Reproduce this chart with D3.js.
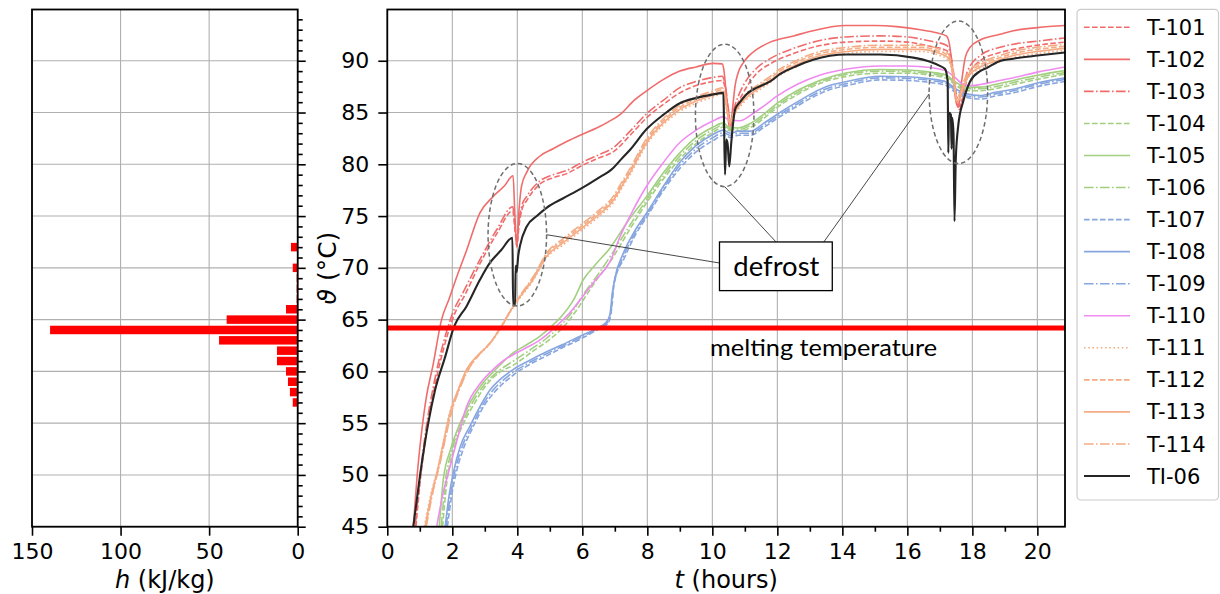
<!DOCTYPE html>
<html>
<head>
<meta charset="utf-8">
<script src="https://cdn.jsdelivr.net/npm/d3@7"></script>
<style>
  body { margin: 0; background: #fff; }
  svg { display: block; }
</style>
</head>
<body>
<svg id="chart" width="1220" height="594"></svg>
<script>
// ---- enthalpy distribution per 1 °C band ----
const hTemps  = [57, 58, 59, 60, 61, 62, 63, 64, 65, 66, 67, 68, 69, 70, 71, 72];
const hValues = [2.8, 4.4, 5.5, 6.6, 11.7, 11.7, 44.4, 139.8, 40.1, 6.6, 0.6, 0.6, 0.6, 2.8, 0.3, 3.8];

// ---- temperature logs: [time (h), temperature (°C)] ----
const t101 = [[0.88,45],[1.0,49],[1.2,54],[1.45,58.4],[1.75,62.4],[2.05,65.4],[2.39,67.4],[2.85,70.4],[3.37,73.3],[3.86,75.5],[3.93,73.6],[3.99,72.1],[4.05,74],[4.15,75.7],[4.29,76.5],[4.7,78.1],[5.1,78.7],[5.52,79.1],[6.0,79.9],[6.5,80.6],[6.95,81.2],[7.5,82.9],[7.98,84.5],[8.5,85.8],[9.0,86.9],[9.5,87.6],[10.03,88.0],[10.3,88.1],[10.4,87.3],[10.5,85],[10.56,83.8],[10.65,84.7],[10.8,86.0],[10.95,86.9],[11.37,88.8],[11.78,89.7],[12.5,90.7],[13.1,91.3],[14.1,91.8],[15.16,91.9],[16.0,91.8],[16.7,91.4],[17.2,91.0],[17.35,90.0],[17.5,86.5],[17.6,85.3],[17.7,86.4],[17.85,88.4],[18.24,90.0],[18.85,90.8],[19.26,91.1],[20.0,91.5],[20.85,91.8]];
const t102 = [[0.80,45],[0.92,50],[1.05,54],[1.2,57.5],[1.4,60.5],[1.67,65],[1.9,67],[2.11,68.9],[2.44,71.7],[2.85,75.3],[3.26,76.9],[3.6,77.9],[3.87,78.9],[3.92,75.5],[3.98,72.0],[4.05,75.5],[4.13,77.9],[4.3,79.3],[4.7,80.8],[5.1,81.5],[5.52,82.2],[6.0,82.9],[6.44,83.5],[6.8,84.1],[7.16,84.8],[7.6,86.2],[7.98,87.1],[8.5,88.2],[9.0,89.0],[9.5,89.4],[10.03,89.75],[10.3,89.7],[10.36,89.0],[10.42,87.0],[10.48,84.6],[10.55,83.2],[10.62,85.3],[10.7,87.6],[10.8,88.9],[10.95,89.8],[11.1,90.4],[11.37,91.1],[11.78,91.8],[12.5,92.4],[13.1,92.9],[14.1,93.4],[15.0,93.4],[15.67,93.3],[16.4,93.0],[16.9,92.7],[17.2,92.4],[17.3,91.5],[17.4,88.5],[17.5,86.0],[17.57,85.5],[17.67,88.0],[17.78,90.3],[17.93,91.3],[18.24,92.0],[18.85,92.55],[19.26,92.9],[20.0,93.2],[20.85,93.4]];
const t103 = [[0.86,45],[0.98,49],[1.17,54],[1.42,58.6],[1.72,62.7],[2.02,65.7],[2.36,67.8],[2.85,70.8],[3.37,73.7],[3.86,75.9],[3.93,74],[3.98,72.4],[4.04,74.3],[4.15,76.1],[4.29,76.9],[4.7,78.4],[5.1,79.0],[5.52,79.4],[6.0,80.2],[6.5,80.9],[6.95,81.6],[7.5,83.3],[7.98,84.9],[8.5,86.2],[9.0,87.4],[9.5,88.0],[10.03,88.4],[10.3,88.5],[10.4,87.6],[10.5,85.2],[10.56,84.0],[10.65,85.2],[10.8,86.6],[10.95,87.6],[11.37,89.3],[11.78,90.2],[12.5,91.2],[13.1,91.8],[14.1,92.3],[15.16,92.4],[16.0,92.3],[16.7,91.9],[17.2,91.5],[17.35,90.4],[17.5,87],[17.6,85.6],[17.7,86.9],[17.85,89.0],[18.24,90.5],[18.85,91.3],[19.26,91.6],[20.0,91.9],[20.85,92.2]];
const t104 = [[1.7,45],[1.82,49],[2.05,52.5],[2.35,55],[2.7,57],[3.0,58.5],[3.5,60],[3.88,60.6],[4.5,62.0],[5.0,63.1],[5.42,64.3],[5.8,65.8],[6.03,66.9],[6.44,68.85],[6.9,70.8],[7.4,73.4],[7.98,76.3],[8.5,78.6],[9.0,80.5],[9.5,82.0],[10.03,83.1],[10.34,83.6],[10.5,83.3],[10.8,83.2],[11.2,83.6],[11.57,84.4],[12.0,85.5],[12.6,86.7],[13.3,87.8],[14.14,88.5],[15.16,88.8],[16.0,88.8],[16.7,88.6],[17.2,88.3],[17.5,87.6],[17.83,87.1],[18.24,87.1],[18.7,87.3],[19.26,87.7],[20.0,88.2],[20.85,88.7]];
const t105 = [[1.6,45],[1.72,49.5],[1.95,52.5],[2.24,55],[2.55,57],[2.85,58.5],[3.37,60.3],[3.88,61.8],[4.3,62.6],[4.7,63.4],[5.0,64.2],[5.31,65.15],[5.73,66.9],[6.03,68.85],[6.4,70.3],[6.85,71.9],[7.4,74.5],[7.98,76.9],[8.5,79.2],[9.0,81.1],[9.5,82.6],[10.03,83.6],[10.34,84.0],[10.5,83.6],[10.8,83.5],[11.2,84.0],[11.57,84.8],[12.0,85.9],[12.6,87.1],[13.3,88.1],[14.14,88.85],[15.16,89.15],[16.0,89.1],[16.7,88.9],[17.2,88.6],[17.5,87.9],[17.83,87.45],[18.24,87.45],[18.7,87.7],[19.26,88.1],[20.0,88.6],[20.85,89.05]];
const t106 = [[1.66,45],[1.78,49.2],[2.0,52.5],[2.3,55],[2.62,57],[2.93,58.5],[3.45,60.1],[3.88,61.0],[4.45,62.2],[4.9,63.2],[5.35,64.5],[5.75,66.0],[6.0,67.3],[6.4,69.0],[6.88,71.2],[7.4,73.8],[7.98,76.6],[8.5,78.9],[9.0,80.8],[9.5,82.3],[10.03,83.35],[10.34,83.8],[10.5,83.45],[10.8,83.35],[11.2,83.8],[11.57,84.6],[12.0,85.7],[12.6,86.9],[13.3,87.95],[14.14,88.7],[15.16,89.0],[16.0,88.95],[16.7,88.75],[17.2,88.45],[17.5,87.75],[17.83,87.3],[18.24,87.3],[18.7,87.5],[19.26,87.9],[20.0,88.4],[20.85,88.85]];
const t107 = [[1.85,45],[1.98,48],[2.12,50.2],[2.35,52.6],[2.65,54.7],[3.0,56.8],[3.3,58.0],[3.9,59.7],[4.4,60.7],[4.9,61.5],[5.4,62.3],[5.93,63.1],[6.4,63.9],[6.8,64.7],[6.9,66],[6.98,68.5],[7.3,71.0],[7.6,73.0],[7.98,74.9],[8.5,77.5],[9.0,79.6],[9.5,81.2],[10.03,82.3],[10.34,82.8],[10.55,82.6],[10.8,82.8],[11.16,82.8],[11.6,83.6],[12.08,84.6],[12.6,85.6],[13.1,86.5],[13.6,87.2],[14.14,87.6],[15.16,88.15],[16.0,88.1],[16.7,87.9],[17.2,87.6],[17.5,86.9],[17.83,86.45],[18.24,86.3],[18.7,86.6],[19.26,86.9],[20.0,87.5],[20.85,88.0]];
const t108 = [[1.78,45],[1.9,48],[2.03,50.2],[2.25,52.8],[2.54,54.7],[2.85,56.6],[3.16,58.2],[3.5,59.3],[3.88,60.2],[4.4,61.1],[4.9,61.9],[5.4,62.6],[5.93,63.4],[6.4,64.1],[6.75,64.8],[6.85,65.5],[6.92,67.5],[7.0,69.0],[7.26,71.4],[7.6,73.5],[7.98,75.3],[8.5,77.9],[9.0,80.2],[9.5,81.8],[10.03,82.9],[10.34,83.3],[10.55,83.0],[10.8,83.2],[11.16,83.2],[11.6,84.0],[12.08,85.0],[12.6,86.0],[13.1,86.9],[13.6,87.6],[14.14,88.0],[15.16,88.5],[16.0,88.45],[16.7,88.25],[17.2,87.95],[17.5,87.25],[17.83,86.8],[18.24,86.65],[18.7,86.95],[19.26,87.25],[20.0,87.85],[20.85,88.35]];
const t109 = [[1.81,45],[1.94,48],[2.07,50.2],[2.3,52.7],[2.6,54.7],[2.92,56.7],[3.23,58.1],[3.7,59.5],[4.4,60.9],[4.9,61.7],[5.4,62.45],[5.93,63.25],[6.4,64.0],[6.78,64.75],[6.88,65.8],[6.95,68.0],[7.28,71.2],[7.6,73.25],[7.98,75.1],[8.5,77.7],[9.0,79.9],[9.5,81.5],[10.03,82.6],[10.34,83.05],[10.55,82.8],[10.8,83.0],[11.16,83.0],[11.6,83.8],[12.08,84.8],[12.6,85.8],[13.1,86.7],[13.6,87.4],[14.14,87.8],[15.16,88.35],[16.0,88.3],[16.7,88.1],[17.2,87.8],[17.5,87.1],[17.83,86.6],[18.24,86.5],[18.7,86.8],[19.26,87.1],[20.0,87.7],[20.85,88.2]];
const t110 = [[1.52,45],[1.7,48],[1.93,50.8],[2.2,54],[2.44,56.6],[2.85,58.8],[3.26,60.2],[3.6,61.1],[3.98,61.8],[4.35,62.4],[4.7,63.05],[5.0,63.8],[5.31,64.7],[5.6,65.6],[5.93,66.9],[6.4,68.8],[6.85,70.6],[6.95,71.3],[7.16,73.0],[7.5,75.2],[7.98,77.9],[8.5,80.2],[9.0,82.1],[9.5,83.3],[10.03,84.2],[10.34,84.6],[10.5,84.3],[10.85,84.2],[11.2,84.8],[11.57,85.6],[12.0,86.6],[12.6,87.7],[13.3,88.6],[14.14,89.2],[15.16,89.5],[16.0,89.5],[16.7,89.35],[17.2,89.0],[17.5,88.3],[17.72,87.7],[18.0,87.6],[18.24,87.7],[18.7,88.0],[19.26,88.35],[20.0,88.9],[20.85,89.4]];
const t111 = [[1.14,45],[1.33,48],[1.55,50.6],[1.73,53.3],[1.9,55.8],[2.18,58.2],[2.42,60.0],[2.78,61.5],[3.14,62.6],[3.48,64.1],[3.86,66.1],[4.06,67.0],[4.47,68.7],[4.88,70.9],[5.4,72.2],[5.93,73.5],[6.45,74.8],[6.95,76.3],[7.2,77.6],[7.47,79.0],[7.98,81.9],[8.49,83.8],[9.0,85.1],[9.5,85.9],[10.03,86.5],[10.3,86.8],[10.38,86.4],[10.45,85.0],[10.53,83.9],[10.6,84.2],[10.75,85.1],[11.0,86.1],[11.37,87.0],[11.78,87.9],[12.08,88.6],[12.5,89.3],[13.1,90.1],[14.14,90.7],[15.16,90.9],[16.4,90.9],[17.0,90.5],[17.25,90.1],[17.4,88.6],[17.52,85.9],[17.62,86.3],[17.75,87.6],[17.9,88.5],[18.24,89.2],[18.75,89.8],[19.26,90.3],[20.0,90.7],[20.85,91.0]];
const t112 = [[1.18,45],[1.38,48.2],[1.6,51],[1.78,53.6],[1.96,56],[2.22,58.4],[2.47,60.1],[2.82,61.6],[3.18,62.8],[3.52,64.4],[3.9,66.4],[4.1,67.3],[4.5,69.1],[4.9,71.3],[5.4,72.6],[5.93,73.9],[6.45,75.2],[6.95,76.7],[7.2,78.0],[7.47,79.4],[7.98,82.3],[8.49,84.2],[9.0,85.5],[9.5,86.3],[10.03,86.9],[10.3,87.2],[10.38,86.8],[10.45,85.3],[10.53,84.1],[10.6,84.4],[10.75,85.4],[11.0,86.5],[11.37,87.4],[11.78,88.3],[12.08,89.0],[12.5,89.7],[13.1,90.5],[14.14,91.1],[15.16,91.3],[16.4,91.3],[17.0,90.9],[17.25,90.5],[17.4,89.0],[17.52,86.3],[17.62,86.6],[17.75,87.9],[17.9,88.8],[18.24,89.6],[18.75,90.2],[19.26,90.7],[20.0,91.1],[20.85,91.4]];
const t113 = [[1.16,45],[1.35,48],[1.57,50.8],[1.75,53.5],[1.93,56],[2.2,58.4],[2.44,60.2],[2.8,61.6],[3.16,62.7],[3.5,64.3],[3.88,66.3],[4.08,67.2],[4.49,68.9],[4.9,71.1],[5.4,72.4],[5.93,73.7],[6.45,75.0],[6.95,76.5],[7.2,77.8],[7.47,79.2],[7.98,82.1],[8.49,84.0],[9.0,85.3],[9.5,86.1],[10.03,86.7],[10.3,87.0],[10.38,86.6],[10.45,85.2],[10.53,84.0],[10.6,84.3],[10.75,85.3],[11.0,86.3],[11.37,87.2],[11.78,88.1],[12.08,88.8],[12.5,89.5],[13.1,90.3],[14.14,90.9],[15.16,91.1],[16.4,91.1],[17.0,90.7],[17.25,90.3],[17.4,88.8],[17.52,86.1],[17.62,86.4],[17.75,87.7],[17.9,88.6],[18.24,89.4],[18.75,90.0],[19.26,90.5],[20.0,90.9],[20.85,91.2]];
const t114 = [[1.2,45],[1.4,48.3],[1.62,51.1],[1.8,53.7],[1.98,56.1],[2.25,58.5],[2.5,60.2],[2.85,61.7],[3.2,62.9],[3.55,64.6],[3.92,66.6],[4.12,67.5],[4.52,69.3],[4.92,71.5],[5.4,72.8],[5.93,74.1],[6.45,75.4],[6.95,76.9],[7.2,78.2],[7.47,79.6],[7.98,82.5],[8.49,84.4],[9.0,85.7],[9.5,86.5],[10.03,87.1],[10.3,87.4],[10.38,87.0],[10.45,85.5],[10.53,84.2],[10.6,84.6],[10.75,85.6],[11.0,86.7],[11.37,87.6],[11.78,88.5],[12.08,89.2],[12.5,89.9],[13.1,90.7],[14.14,91.3],[15.16,91.5],[16.4,91.5],[17.0,91.1],[17.25,90.7],[17.4,89.2],[17.52,86.5],[17.62,86.8],[17.75,88.1],[17.9,89.0],[18.24,89.8],[18.75,90.4],[19.26,90.9],[20.0,91.3],[20.85,91.6]];
const ti06 = [[0.8,45],[1.0,49.8],[1.26,55],[1.47,58.2],[1.78,61.4],[2.05,64.3],[2.44,66.3],[2.85,68.85],[3.16,70.5],[3.5,71.7],[3.85,72.9],[3.87,66.4],[3.93,66.4],[3.95,70.2],[3.98,69.6],[4.03,71.2],[4.08,72.1],[4.29,74.0],[4.6,75.0],[4.9,75.8],[5.4,76.7],[5.93,77.6],[6.45,78.6],[6.95,79.65],[7.2,80.5],[7.47,81.4],[7.98,83.4],[8.5,84.8],[9.0,85.9],[9.5,86.4],[10.03,86.75],[10.34,86.9],[10.36,84.0],[10.39,79.0],[10.43,82.4],[10.47,82.0],[10.52,79.8],[10.58,82.0],[10.63,83.7],[10.7,85.3],[10.85,86.0],[11.06,86.8],[11.37,87.4],[11.78,88.0],[12.08,88.7],[12.6,89.5],[13.1,90.1],[14.14,90.6],[15.16,90.6],[16.18,90.3],[16.7,89.9],[17.0,89.5],[17.16,89.2],[17.24,88.0],[17.26,81.1],[17.28,85.0],[17.34,84.8],[17.36,81.5],[17.38,84.5],[17.42,83.0],[17.45,74.5],[17.49,80.5],[17.57,83.85],[17.72,86.1],[17.93,88.0],[18.24,89.0],[18.44,89.3],[18.85,89.97],[19.26,90.2],[20.0,90.5],[20.85,90.8]];

// ---- axis ticks ----
const tempTicks = [45, 50, 55, 60, 65, 70, 75, 80, 85, 90];
const timeTicks = [0, 2, 4, 6, 8, 10, 12, 14, 16, 18, 20];
const hTicks = [150, 100, 50, 0];

const meltingTemp = 64.2;

// ---- line styles ----
const RED = "#f06c6c", GREEN = "#a2cf80", BLUE = "#87a6e0", PINK = "#f08cf0", ORANGE = "#f5ac84", DARK = "#262626";
const SOLID = null, DASHED = "5.6,2.4", DASHDOT = "9.6,2.4,1.6,2.4", DOTTED = "1.6,2.6";

const series = [
  { name: "T-101", data: t101, color: RED, dash: DASHED },
  { name: "T-102", data: t102, color: RED, dash: SOLID },
  { name: "T-103", data: t103, color: RED, dash: DASHDOT },
  { name: "T-104", data: t104, color: GREEN, dash: DASHED },
  { name: "T-105", data: t105, color: GREEN, dash: SOLID },
  { name: "T-106", data: t106, color: GREEN, dash: DASHDOT },
  { name: "T-107", data: t107, color: BLUE, dash: DASHED },
  { name: "T-108", data: t108, color: BLUE, dash: SOLID },
  { name: "T-109", data: t109, color: BLUE, dash: DASHDOT },
  { name: "T-110", data: t110, color: PINK, dash: SOLID },
  { name: "T-111", data: t111, color: ORANGE, dash: DOTTED },
  { name: "T-112", data: t112, color: ORANGE, dash: DASHED },
  { name: "T-113", data: t113, color: ORANGE, dash: SOLID },
  { name: "T-114", data: t114, color: ORANGE, dash: DASHDOT },
  { name: "TI-06", data: ti06, color: DARK, dash: SOLID, width: 2.1 }
];

// ---- layout ----
const plotTop = 9.5, plotBottom = 526.7;
const mainL = 387.3, mainR = 1065;
const sideL = 32, sideR = 297.7;
const TICK_FONT = "'DejaVu Sans', sans-serif";
const NOTE_FONT = "Lato, 'Open Sans', sans-serif";

const svg = d3.select("#chart");
const y  = d3.scaleLinear().domain([45, 94.95]).range([plotBottom, plotTop]);
const x  = d3.scaleLinear().domain([0, 20.85]).range([mainL, mainR]);
const hx = d3.scaleLinear().domain([150, 0]).range([sideL, sideR]);

svg.append("rect").attr("width", 1220).attr("height", 594).attr("fill", "#fff");

const GRID = "#b0b0b0";

// ================= left panel: enthalpy histogram =================
const side = svg.append("g");
side.append("g").selectAll("line.h").data(tempTicks).join("line")
  .attr("x1", sideL).attr("x2", sideR)
  .attr("y1", d => y(d)).attr("y2", d => y(d))
  .attr("stroke", GRID).attr("stroke-width", 1.1);
side.append("g").selectAll("line.v").data(hTicks).join("line")
  .attr("x1", d => hx(d)).attr("x2", d => hx(d))
  .attr("y1", plotTop).attr("y2", plotBottom)
  .attr("stroke", GRID).attr("stroke-width", 1.1);

const BAND = 0.82;
side.append("g").selectAll("rect").data(hTemps.map((t, i) => ({ t, h: hValues[i] }))).join("rect")
  .attr("x", d => hx(d.h))
  .attr("width", d => hx(0) - hx(d.h))
  .attr("y", d => y(d.t + BAND / 2))
  .attr("height", d => y(d.t - BAND / 2) - y(d.t + BAND / 2))
  .attr("fill", "#ff0000");

side.append("rect").attr("x", sideL).attr("y", plotTop)
  .attr("width", sideR - sideL).attr("height", plotBottom - plotTop)
  .attr("fill", "none").attr("stroke", "#000").attr("stroke-width", 1.8);

// bottom axis of left panel
const sideXAxis = side.append("g").attr("transform", `translate(0,${plotBottom})`)
  .call(d3.axisBottom(hx).tickValues(hTicks).tickSize(9).tickPadding(8).tickFormat(d3.format("d")));
// right-hand temperature ticks of left panel (no labels)
const sideYAxis = side.append("g").attr("transform", `translate(${sideR},0)`)
  .call(d3.axisRight(y).tickValues(tempTicks).tickSize(8).tickFormat(""));
const sideYMinor = side.append("g").attr("transform", `translate(${sideR},0)`)
  .call(d3.axisRight(y).tickValues(d3.range(46, 95).filter(v => v % 5 !== 0)).tickSize(5).tickFormat(""));

side.append("text")
  .attr("x", (sideL + sideR) / 2).attr("y", 588)
  .attr("text-anchor", "middle")
  .attr("font-family", TICK_FONT).attr("font-size", 24)
  .html('<tspan font-style="italic">h</tspan> (kJ/kg)');

// ================= main panel: temperature logs =================
const main = svg.append("g");
main.append("g").selectAll("line").data(tempTicks).join("line")
  .attr("x1", mainL).attr("x2", mainR)
  .attr("y1", d => y(d)).attr("y2", d => y(d))
  .attr("stroke", GRID).attr("stroke-width", 1.1);
main.append("g").selectAll("line").data(timeTicks).join("line")
  .attr("x1", d => x(d)).attr("x2", d => x(d))
  .attr("y1", plotTop).attr("y2", plotBottom)
  .attr("stroke", GRID).attr("stroke-width", 1.1);

svg.append("defs").append("clipPath").attr("id", "plotClip")
  .append("rect").attr("x", mainL).attr("y", plotTop)
  .attr("width", mainR - mainL).attr("height", plotBottom - plotTop);

const line = d3.line().x(d => x(d[0])).y(d => y(d[1])).curve(d3.curveMonotoneX);

const curves = main.append("g").attr("clip-path", "url(#plotClip)");
curves.selectAll("path").data(series).join("path")
  .attr("d", s => line(s.data))
  .attr("fill", "none")
  .attr("stroke", s => s.color)
  .attr("stroke-width", s => s.width || 1.6)
  .attr("stroke-dasharray", s => s.dash)
  .attr("stroke-linejoin", "round");

// melting temperature marker
main.append("line")
  .attr("x1", mainL).attr("x2", mainR)
  .attr("y1", y(meltingTemp)).attr("y2", y(meltingTemp))
  .attr("stroke", "#ff0000").attr("stroke-width", 5);
main.append("text")
  .attr("x", x(9.93)).attr("y", y(61.44))
  .attr("font-family", NOTE_FONT).attr("font-size", 23)
  .attr("textLength", 227).attr("lengthAdjust", "spacingAndGlyphs")
  .attr("fill", "#000")
  .text("melting temperature");

// defrost events
const defrostZones = [
  { t: 4.0,   v: 73.2  },
  { t: 10.38, v: 84.72 },
  { t: 17.57, v: 86.95 }
];
const zoneRt = 0.9, zoneRv = 6.88;
const zones = main.append("g");
zones.selectAll("ellipse").data(defrostZones).join("ellipse")
  .attr("cx", d => x(d.t)).attr("cy", d => y(d.v))
  .attr("rx", x(zoneRt) - x(0)).attr("ry", y(0) - y(zoneRv))
  .attr("fill", "none").attr("stroke", "#6e6e6e")
  .attr("stroke-width", 1.5).attr("stroke-dasharray", "4.5,3");

const noteBox = { t0: 10.22, t1: 13.69, v0: 67.8, v1: 72.5 };
const leaders = [
  { from: [defrostZones[0].t + zoneRt, defrostZones[0].v], to: [noteBox.t0, 70.47] },
  { from: [defrostZones[1].t, defrostZones[1].v - zoneRv], to: [11.96, noteBox.v1] },
  { from: [defrostZones[2].t - zoneRt, defrostZones[2].v - 0.15], to: [13.43, noteBox.v1] }
];
zones.selectAll("line").data(leaders).join("line")
  .attr("x1", d => x(d.from[0])).attr("y1", d => y(d.from[1]))
  .attr("x2", d => x(d.to[0])).attr("y2", d => y(d.to[1]))
  .attr("stroke", "#333").attr("stroke-width", 0.9);
zones.append("rect")
  .attr("x", x(noteBox.t0)).attr("y", y(noteBox.v1))
  .attr("width", x(noteBox.t1) - x(noteBox.t0))
  .attr("height", y(noteBox.v0) - y(noteBox.v1))
  .attr("fill", "#fff").attr("stroke", "#000").attr("stroke-width", 1.3);
zones.append("text")
  .attr("x", x(11.97)).attr("y", y(69.18))
  .attr("text-anchor", "middle")
  .attr("font-family", NOTE_FONT).attr("font-size", 27)
  .attr("textLength", 86).attr("lengthAdjust", "spacingAndGlyphs")
  .text("defrost");

main.append("rect").attr("x", mainL).attr("y", plotTop)
  .attr("width", mainR - mainL).attr("height", plotBottom - plotTop)
  .attr("fill", "none").attr("stroke", "#000").attr("stroke-width", 1.8);

const mainXAxis = main.append("g").attr("transform", `translate(0,${plotBottom})`)
  .call(d3.axisBottom(x).tickValues(timeTicks).tickSize(9).tickPadding(8).tickFormat(d3.format("d")));
const mainXMinor = main.append("g").attr("transform", `translate(0,${plotBottom})`)
  .call(d3.axisBottom(x).tickValues(d3.range(1, 21, 2)).tickSize(5).tickFormat(""));
const mainYAxis = main.append("g").attr("transform", `translate(${mainL},0)`)
  .call(d3.axisLeft(y).tickValues(tempTicks).tickSize(9).tickPadding(9).tickFormat(d3.format("d")));

main.append("text")
  .attr("x", (mainL + mainR) / 2).attr("y", 588)
  .attr("text-anchor", "middle")
  .attr("font-family", TICK_FONT).attr("font-size", 24)
  .html('<tspan font-style="italic">t</tspan> (hours)');
main.append("text")
  .attr("transform", `translate(336,${(plotTop + plotBottom) / 2}) rotate(-90)`)
  .attr("text-anchor", "middle")
  .attr("font-family", TICK_FONT).attr("font-size", 25)
  .html('<tspan font-style="italic">ϑ</tspan> (°C)');

// shared axis styling
[sideXAxis, sideYAxis, sideYMinor, mainXAxis, mainXMinor, mainYAxis].forEach(g => {
  g.select(".domain").remove();
  g.selectAll(".tick line").attr("stroke", "#000").attr("stroke-width", 1.6);
  g.selectAll(".tick text").attr("fill", "#000")
    .attr("font-family", TICK_FONT).attr("font-size", 22);
});

// ================= legend =================
const legend = svg.append("g");
legend.append("rect")
  .attr("x", 1077).attr("y", 9.3).attr("width", 141.5).attr("height", 490.7)
  .attr("rx", 4).attr("fill", "#fff").attr("fill-opacity", 0.85)
  .attr("stroke", "#cccccc").attr("stroke-width", 1.2);
const rows = legend.selectAll("g.row").data(series).join("g")
  .attr("transform", (d, i) => `translate(0,${27.3 + i * 32.05})`);
rows.append("line")
  .attr("x1", 1084).attr("x2", 1130)
  .attr("stroke", d => d.color)
  .attr("stroke-width", d => d.width || 1.6)
  .attr("stroke-dasharray", d => d.dash);
rows.append("text")
  .attr("x", 1147).attr("y", 0).attr("dy", "0.36em")
  .attr("font-family", TICK_FONT).attr("font-size", 21)
  .text(d => d.name);
</script>
</body>
</html>
